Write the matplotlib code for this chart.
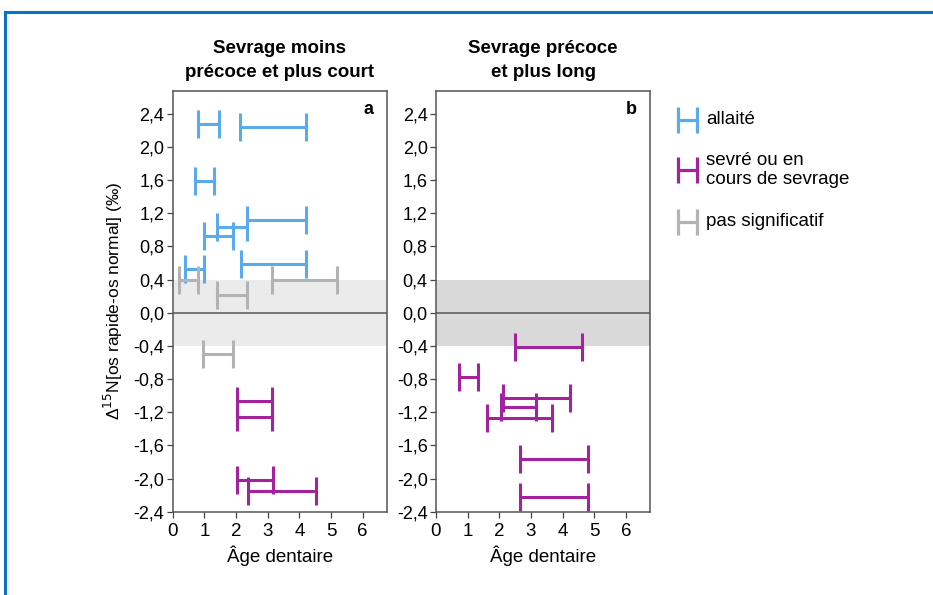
import matplotlib.pyplot as plt
from matplotlib.patches import Rectangle
from matplotlib.ticker import FuncFormatter

plt.rcParams['font.family'] = ['Liberation Sans', 'DejaVu Sans']

BLUE = "#5aabec"
PURPLE = "#a4229e"
GRAY = "#b3b3b3"
COLORS = {"allaite": BLUE, "sevre": PURPLE, "ns": GRAY}

# panel a : age intervals (start, end), delta value, category
a_start = [0.80, 2.13, 0.71, 2.36, 1.41, 1.00, 2.15, 0.39, 0.21, 1.41, 3.13, 0.95, 2.02, 2.02, 2.04, 2.37]
a_end   = [1.47, 4.20, 1.30, 4.20, 2.36, 1.89, 4.20, 1.00, 0.79, 2.36, 5.20, 1.89, 3.13, 3.13, 3.16, 4.52]
a_y     = [2.28, 2.24, 1.59, 1.12, 1.03, 0.93, 0.59, 0.53, 0.40, 0.22, 0.40, -0.50, -1.06, -1.26, -2.02, -2.15]
a_cat   = ["allaite"] * 8 + ["ns"] * 4 + ["sevre"] * 4

# panel b
b_start = [2.49, 0.73, 2.12, 2.04, 1.62, 2.64, 2.64]
b_end   = [4.62, 1.34, 4.24, 3.17, 3.67, 4.79, 4.79]
b_y     = [-0.41, -0.78, -1.03, -1.14, -1.27, -1.76, -2.22]
b_cat   = ["sevre"] * 7

yticks = [2.4, 2.0, 1.6, 1.2, 0.8, 0.4, 0.0, -0.4, -0.8, -1.2, -1.6, -2.0, -2.4]
xticks = [0, 1, 2, 3, 4, 5, 6]

fig = plt.figure(figsize=(9.33, 5.95), dpi=100)

# blue frame around the figure
fig.patches.append(Rectangle((5 / 933, -0.1), 1.2, 1 - 12 / 595 + 0.1, transform=fig.transFigure,
                             fill=False, edgecolor="#0a72c0", linewidth=2.2))

ax_a = fig.add_axes([0.1851, 0.140, 0.2294, 0.7076])
ax_b = fig.add_axes([0.4673, 0.140, 0.2294, 0.7076])


def draw_panel(ax, starts, ends, ys, cats, band_color, letter, title):
    ax.axhspan(-0.4, 0.4, color=band_color, zorder=0, lw=0)
    ax.axhline(0, color="#555555", lw=1.1, zorder=1)
    for s, e, y, c in zip(starts, ends, ys, cats):
        ax.errorbar((s + e) / 2, y, xerr=(e - s) / 2, fmt="none", ecolor=COLORS[c],
                    elinewidth=2.2, capsize=10, capthick=2.2, zorder=3)
    ax.set_xlim(0, 6.76)
    ax.set_ylim(-2.4, 2.68)
    ax.set_xticks(xticks)
    ax.set_yticks(yticks)
    ax.yaxis.set_major_formatter(FuncFormatter(lambda v, p: f"{v:.1f}".replace(".", ",").replace("-0,0", "0,0")))
    ax.tick_params(axis="y", labelsize=13, pad=2)
    ax.tick_params(axis="x", labelsize=13.5, pad=4)
    ax.tick_params(length=4, width=0.9, color="#444444", direction="out")
    for sp in ax.spines.values():
        sp.set_color("#555555")
        sp.set_linewidth(1.1)
    ax.set_xlabel("Âge dentaire", fontsize=13.5, labelpad=4)
    ax.set_title(title, fontsize=13.5, fontweight="bold", pad=10, linespacing=1.5)
    ax.text(0.94, 0.975, letter, transform=ax.transAxes, ha="right", va="top",
            fontsize=13, fontweight="bold")


draw_panel(ax_a, a_start, a_end, a_y, a_cat, "#ebebeb", "a", "Sevrage moins\nprécoce et plus court")
draw_panel(ax_b, b_start, b_end, b_y, b_cat, "#d9d9d9", "b", "Sevrage précoce\net plus long")
ax_a.set_ylabel("Δ$^{15}$N[os rapide-os normal] (‰)", fontsize=12.5, labelpad=6)

# legend drawn as H icons
leg = fig.add_axes([0, 0, 1, 1])
leg.set_xlim(0, 933)
leg.set_ylim(595, 0)
leg.axis("off")
leg_items = [("allaite", "allaité", 120), ("sevre", "sevré ou en\ncours de sevrage", 170), ("ns", "pas significatif", 222)]
for cat, label, yc in leg_items:
    col = COLORS[cat]
    leg.plot([678, 678], [yc - 13, yc + 13], color=col, lw=2.3, solid_capstyle="butt")
    leg.plot([697, 697], [yc - 13, yc + 13], color=col, lw=2.3, solid_capstyle="butt")
    leg.plot([678, 697], [yc, yc], color=col, lw=2.3, solid_capstyle="butt")
    leg.text(706, yc, label, fontsize=13.5, va="center", ha="left", linespacing=1.15)

fig.savefig("out.png", dpi=100)
